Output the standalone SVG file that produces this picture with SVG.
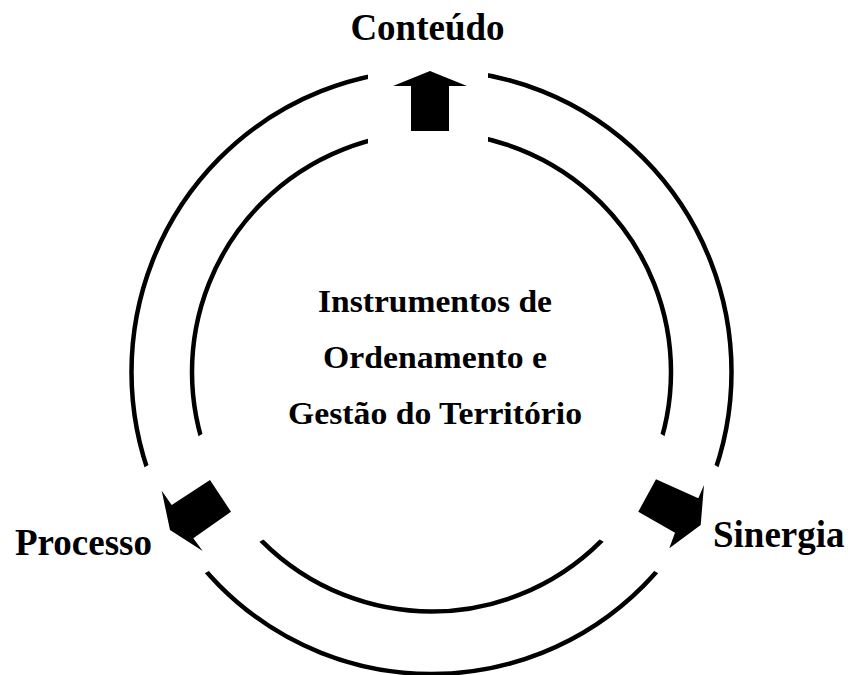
<svg xmlns="http://www.w3.org/2000/svg" width="848" height="675" viewBox="0 0 848 675">
<style>
.ring{fill:none;stroke:#000;stroke-width:4.5}
.arrow{fill:#000;stroke:none}
.lbl{font-family:"Liberation Serif","Times New Roman",serif;font-weight:bold;font-size:37px;fill:#000}
.ctr{font-family:"Liberation Serif","Times New Roman",serif;font-weight:bold;font-size:32px;fill:#000;text-anchor:middle}
</style>
<defs>
<mask id="gaps" maskUnits="userSpaceOnUse" x="0" y="0" width="848" height="675">
<rect x="0" y="0" width="848" height="675" fill="#fff"/>
<rect x="368" y="0" width="120" height="372" fill="#000"/>
<polygon points="462,424.8 401,319.2 54.6,519.2 115.6,624.8" fill="#000"/>
<polygon points="401,424.8 462,319.2 808.4,519.2 747.4,624.8" fill="#000"/>
</mask>
</defs>
<rect width="848" height="675" fill="#fff"/>
<g id="connectors" mask="url(#gaps)">
<ellipse class="ring" cx="431.5" cy="372" rx="300" ry="302"/>
<circle class="ring" cx="431.5" cy="372" r="239.5"/>
</g>
<g id="center">
<text class="ctr" x="435" y="312" textLength="234" lengthAdjust="spacingAndGlyphs">Instrumentos de</text>
<text class="ctr" x="435" y="368" textLength="224" lengthAdjust="spacingAndGlyphs">Ordenamento e</text>
<text class="ctr" x="435" y="424" textLength="294" lengthAdjust="spacingAndGlyphs">Gestão do Território</text>
</g>
<g id="conteudo">
<polygon class="arrow" points="430,71 467,86 449,86 449,131 411,131 411,86 393,86"/>
<text class="lbl" x="427.5" y="40" text-anchor="middle">Conteúdo</text>
</g>
<g id="processo">
<polygon class="arrow" points="170,530 202.7,551 193.3,538.3 231,511.7 210,480 171.7,505 161.7,490.7"/>
<text class="lbl" x="15" y="555">Processo</text>
</g>
<g id="sinergia">
<polygon class="arrow" points="700.7,525 669.3,548.3 675,532.7 638.3,511.7 656,479.3 698.3,498.3 704,485"/>
<text class="lbl" x="713" y="547">Sinergia</text>
</g>
</svg>
